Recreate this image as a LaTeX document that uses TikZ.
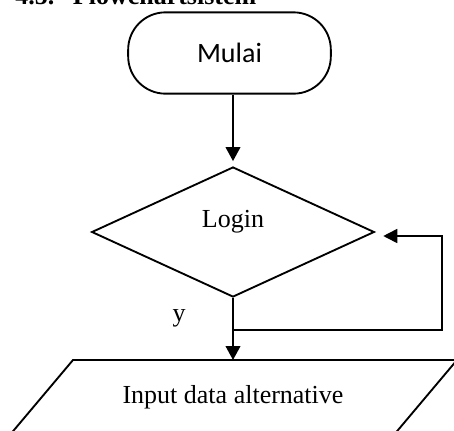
\documentclass[tikz,border=0pt]{standalone}
\usepackage{fontspec}
\setmainfont{Liberation Serif}
\newfontfamily\calibrifont{Carlito}
\usetikzlibrary{shapes.geometric,arrows.meta}

\tikzset{
  flowline/.style={line width=1.4pt},
  flowarrow/.style={flowline,-{Triangle[length=10.5pt,width=11pt]}},
  loopline/.style={line width=1.2pt,-{Triangle[length=10.5pt,width=10.5pt]}},
  flowtext/.style={font=\fontsize{19.5}{23}\selectfont},
}

\begin{document}
\begin{tikzpicture}[x=0.75pt,y=0.75pt,yscale=-1,xscale=1]
\useasboundingbox (0,0) rectangle (454,430);
\clip (0,0) rectangle (454,430);

% Text Node
\draw (15,4.5) node [anchor=base west][inner sep=0pt] (title) {\fontsize{19.5}{23}\selectfont\bfseries 4.5.\hspace{14pt}Flowchartsistem};

%Shape: Terminal [mulai]
\node [draw, flowline, rectangle, rounded corners=28pt, minimum width=152pt, minimum height=61pt] (mulai) at (229.5,53) {\calibrifont\fontsize{21}{25}\selectfont Mulai};

%Shape: Diamond [login]
\node [draw, flowline, diamond, minimum width=212pt, minimum height=97.5pt, inner sep=0pt] (login) at (233,232) {};
% Text Node
\node [flowtext, inner sep=0pt] (logintext) at (233,222) {Login};

%Shape: Parallelogram [input]
\draw [flowline] (73,360) -- (457,360) -- (393,436) -- (9,436) -- cycle;
\coordinate (inputtop) at (233,360);
% Text Node
\node [flowtext, inner sep=0pt] (input) at (233,397) {Input data alternative};

% Text Node
\node [flowtext, inner sep=0pt] (ylabel) at (179,318) {y};

%Straight Lines
\draw [flowarrow, shorten >=3.75pt] (mulai.south -| login.north) -- (login.north);
\draw [flowarrow] (login.south) -- (inputtop);

%Loop back to login
\coordinate (split) at (233,330);
\coordinate (loopend) at ([xshift=6pt,yshift=3pt]login.east);
\draw [loopline] (split) -- ++(209,0) |- (loopend);
\end{tikzpicture}
\end{document}
